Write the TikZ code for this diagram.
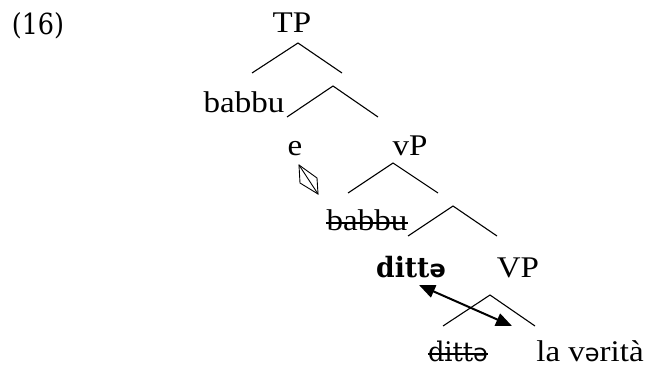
\documentclass[tikz,border=0pt]{standalone}
\usepackage{fontspec}
\setmainfont[FakeStretch=1.1]{Liberation Serif}
\newfontfamily\numfont[FakeStretch=0.88]{DejaVu Serif}
\newfontfamily\bkfont[FakeStretch=0.95]{DejaVu Serif}
\newfontfamily\schwafont{DejaVu Sans}
\usetikzlibrary{arrows.meta}
\newcommand{\schwa}{{\schwafont\fontsize{24}{26}\selectfont ə}}
\tikzset{
  lbl/.style={anchor=base, inner sep=0pt, font=\fontsize{30}{32}\selectfont},
  bk/.style={anchor=base, inner sep=0pt, font=\bkfont\fontsize{26}{28}\selectfont},
  branch/.style={line width=1.1pt},
  mover/.style={line width=2pt, {Triangle[length=16pt,width=13pt]}-{Triangle[length=16pt,width=13pt]}},
  strike/.style={line width=1.3pt}
}
\begin{document}
\begin{tikzpicture}[x=1pt,y=-1pt]
\useasboundingbox (0,0) rectangle (652,369);
% labels
\node[bk, font=\numfont\fontsize{29}{31}\selectfont] (num) at (38,35) {(16)};
\node[lbl] (tp) at (292,33) {TP};
\node[lbl] (bab) at (244,112) {babbu};
\node[lbl] (e) at (295,155) {e};
\node[lbl] (vp) at (410,155) {vP};
\node[lbl] (sbab) at (367,230) {babbu};
\node[bk, font=\bkfont\bfseries\fontsize{28}{30}\selectfont] (dit) at (411,277) {ditt\schwa};
\node[lbl] (VP) at (518,277) {VP};
\node[bk, font=\bkfont\fontsize{27}{29}\selectfont] (sdit) at (458,361) {ditt\schwa};
\node[lbl] (ver) at (590,361) {la v\schwa rità};
% strikethroughs
\draw[strike] ([yshift=7pt]sbab.base west) -- ([yshift=7pt]sbab.base east);
\draw[strike] ([yshift=7pt]sdit.base west) -- ([yshift=7pt]sdit.base east);
% tree branch coordinates
\coordinate (a1) at (298,43);  \coordinate (l1) at (252,73);  \coordinate (r1) at (342,73);
\coordinate (a2) at (333,86);  \coordinate (l2) at (287,117); \coordinate (r2) at (378,117);
\coordinate (a3) at (393,163); \coordinate (l3) at (348,193); \coordinate (r3) at (438,193);
\coordinate (a4) at (453,206); \coordinate (l4) at (408,236); \coordinate (r4) at (497,236);
\coordinate (a5) at (490,295); \coordinate (l5) at (443,326); \coordinate (r5) at (535,326);
\foreach \i in {1,...,5} {\draw[branch] (l\i) -- (a\i) -- (r\i);}
% diamond
\coordinate (d1) at (299,165); \coordinate (d2) at (317,178);
\coordinate (d3) at (318,194); \coordinate (d4) at (300,183);
\draw[line width=0.9pt, line join=miter] (d1) -- (d2) -- (d3) -- (d4) -- cycle;
\draw[line width=0.9pt] (d1) -- (d3);
% movement arrow
\coordinate (m1) at (419,285); \coordinate (m2) at (512,326);
\draw[mover] (m1) -- (m2);
\end{tikzpicture}
\end{document}
